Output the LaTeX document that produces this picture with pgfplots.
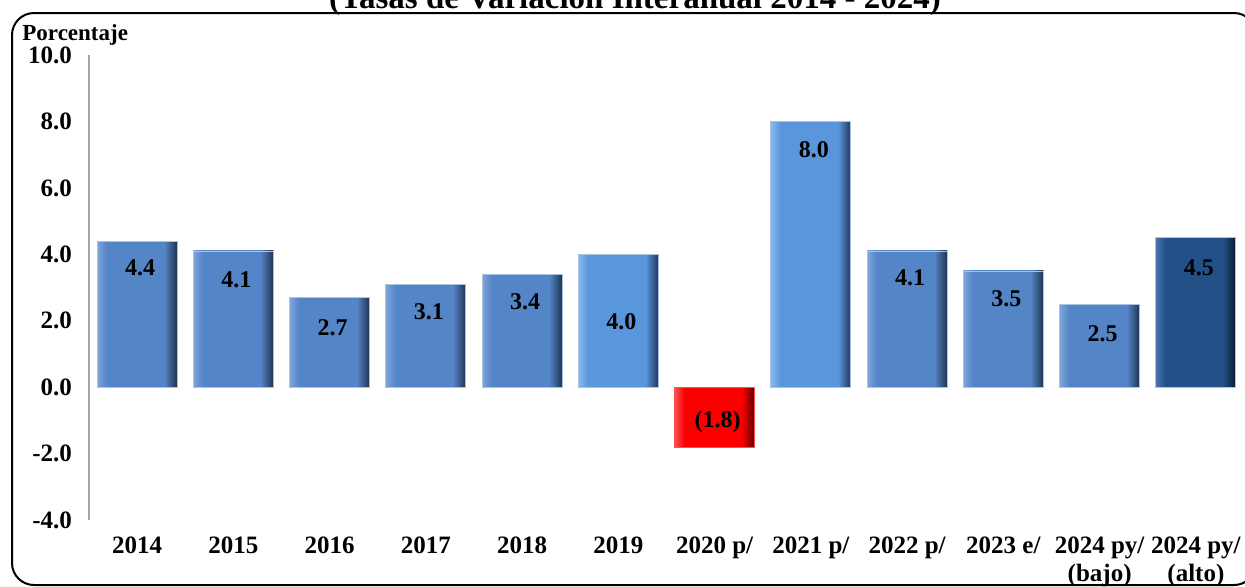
\documentclass[border=0pt]{standalone}
\usepackage{fontspec}
\setmainfont{Liberation Serif}
\usepackage{pgfplots}
\pgfplotsset{compat=1.18}

\definecolor{medbase}{RGB}{84,133,198}
\definecolor{medlight}{RGB}{125,165,218}
\definecolor{meddark}{RGB}{30,50,80}
\definecolor{brtbase}{RGB}{90,150,220}
\definecolor{brtlight}{RGB}{135,185,235}
\definecolor{brtdark}{RGB}{30,55,90}
\definecolor{navybase}{RGB}{36,80,136}
\definecolor{navylight}{RGB}{75,115,170}
\definecolor{navydark}{RGB}{10,25,45}
\definecolor{redbase}{RGB}{250,0,0}
\definecolor{redlight}{RGB}{255,80,80}
\definecolor{reddark}{RGB}{90,0,0}
\definecolor{edgeblue}{RGB}{170,195,225}

% bevel look: light left band, flat middle, dark right band
\pgfdeclarehorizontalshading{bevmed}{100bp}{color(0bp)=(medlight); color(25bp)=(medlight); color(31bp)=(medbase); color(67bp)=(medbase); color(75bp)=(meddark); color(100bp)=(meddark)}
\pgfdeclarehorizontalshading{bevbrt}{100bp}{color(0bp)=(brtlight); color(25bp)=(brtlight); color(31bp)=(brtbase); color(67bp)=(brtbase); color(75bp)=(brtdark); color(100bp)=(brtdark)}
\pgfdeclarehorizontalshading{bevnavy}{100bp}{color(0bp)=(navylight); color(25bp)=(navylight); color(31bp)=(navybase); color(67bp)=(navybase); color(75bp)=(navydark); color(100bp)=(navydark)}
\pgfdeclarehorizontalshading{bevred}{100bp}{color(0bp)=(redlight); color(25bp)=(redlight); color(31bp)=(redbase); color(67bp)=(redbase); color(75bp)=(reddark); color(100bp)=(reddark)}

\pgfplotstableread{
x ly lab
0 3.58 4.4
1 3.22 4.1
2 1.78 2.7
3 2.26 3.1
4 2.56 3.4
5 1.96 4.0
6 -1.05 (1.8)
7 7.14 8.0
8 3.28 4.1
9 2.65 3.5
10 1.60 2.5
11 3.58 4.5
}\labels

% one plot per bar, so the shading fits each bar
\newcommand{\bevbar}[4]{%
  \addplot[ybar, bar width=40pt, bar shift=0pt, shade, shading=#1, draw=#2, line width=0.4pt]
    coordinates {(#3,#4)};}

\begin{document}
\begin{tikzpicture}
\path[use as bounding box] (0pt,0pt) rectangle (622.5pt,-293pt);
\draw[line width=1pt, rounded corners=11pt] (6pt,-6.5pt) rectangle (628pt,-292.5pt);
\node[anchor=base, font=\fontsize{16.5}{18}\selectfont\bfseries] at (317.5pt,-4pt)
  {(Tasas de Variación Interanual 2014 - 2024)};
\node[anchor=base west, inner sep=0pt, font=\fontsize{11.5}{13}\selectfont\bfseries] at (11pt,-20pt) {Porcentaje};

\begin{axis}[
  at={(44.5pt,-260pt)}, anchor=south west,
  scale only axis, width=577.5pt, height=232.5pt,
  xmin=-0.5, xmax=11.5, ymin=-4, ymax=10,
  axis x line=bottom, axis y line=left,
  x axis line style={draw=none},
  y axis line style={-, draw=gray!70, line width=1pt},
  major tick length=0pt,
  ytick={-4,-2,0,2,4,6,8,10},
  yticklabels={-4.0,-2.0,0.0,2.0,4.0,6.0,8.0,10.0},
  xtick={0,1,2,3,4,5,6,7,8,9,10,11},
  xticklabels={2014,2015,2016,2017,2018,2019,2020 p/,2021 p/,2022 p/,2023 e/,{2024 py/\\(bajo)},{2024 py/\\(alto)}},
  tick label style={font=\fontsize{12.5}{14}\selectfont\bfseries},
  xticklabel style={align=center, yshift=-5pt},
  yticklabel style={xshift=-5pt},
  clip=false,
]
\bevbar{bevmed}{edgeblue}{0}{4.4}
\bevbar{bevmed}{edgeblue}{1}{4.1}
\bevbar{bevmed}{edgeblue}{2}{2.7}
\bevbar{bevmed}{edgeblue}{3}{3.1}
\bevbar{bevmed}{edgeblue}{4}{3.4}
\bevbar{bevbrt}{edgeblue}{5}{4.0}
\bevbar{bevred}{redlight}{6}{-1.8}
\bevbar{bevbrt}{edgeblue}{7}{8.0}
\bevbar{bevmed}{edgeblue}{8}{4.1}
\bevbar{bevmed}{edgeblue}{9}{3.5}
\bevbar{bevmed}{edgeblue}{10}{2.5}
\bevbar{bevnavy}{edgeblue}{11}{4.5}
\addplot[draw=none, nodes near coords, point meta=explicit symbolic,
  nodes near coords align={center},
  every node near coord/.append style={font=\fontsize{12}{14}\selectfont\bfseries, text=black, xshift=1.5pt}]
  table[x=x, y=ly, meta=lab] {\labels};
\end{axis}
\end{tikzpicture}
\end{document}
